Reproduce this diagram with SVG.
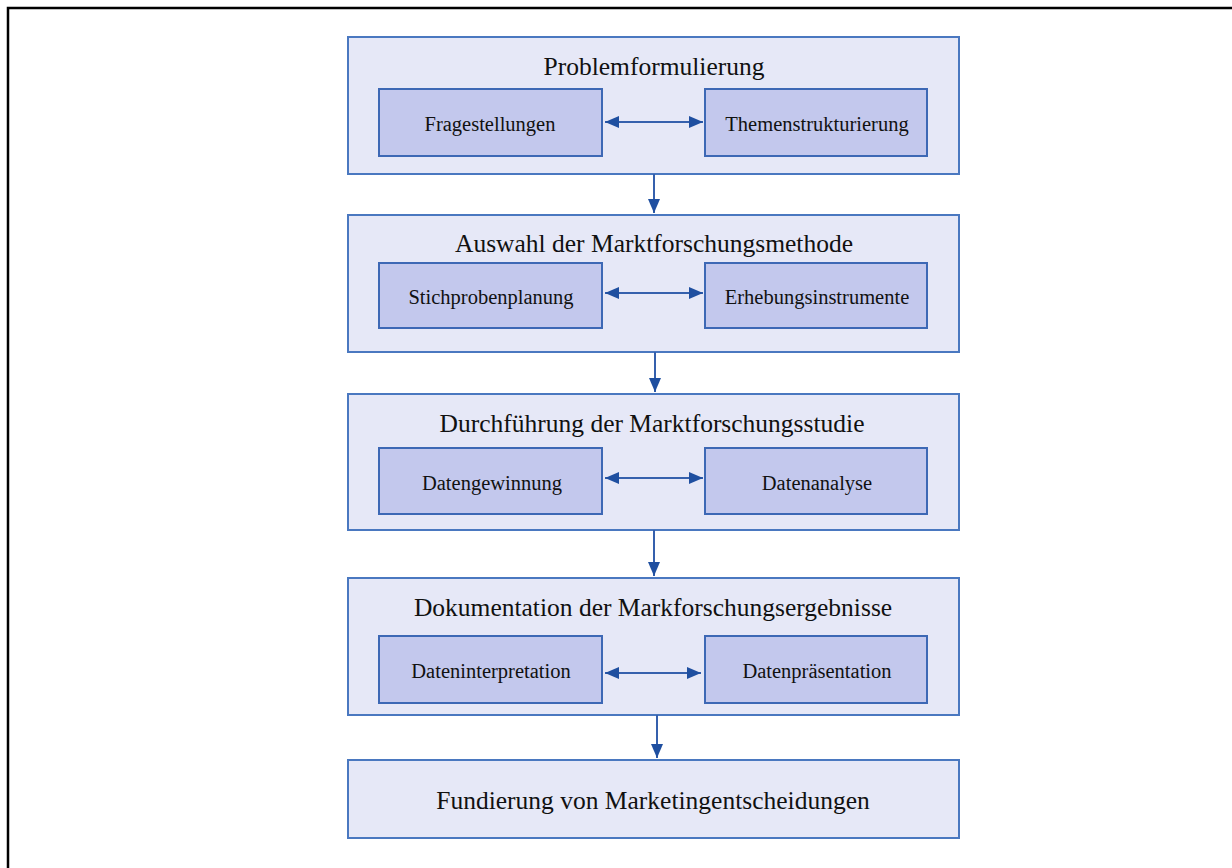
<svg xmlns="http://www.w3.org/2000/svg" width="1232" height="868" viewBox="0 0 1232 868">
<style>
.outer{fill:#e6e8f7;stroke:#4a78c0;stroke-width:2}
.inner{fill:#c3c8ed;stroke:#3d68b5;stroke-width:2}
.t{font-family:"Liberation Serif","Times New Roman",serif;fill:#111;text-anchor:middle}
.big{font-size:25.5px}
.small{font-size:20.5px}
.con{stroke:#3560ad;stroke-width:2;fill:none}
</style>
<defs>
<marker id="ah" viewBox="0 0 10 10" refX="10" refY="5" markerWidth="7" markerHeight="6" orient="auto-start-reverse" markerUnits="strokeWidth" preserveAspectRatio="none">
<path d="M0,0 L10,5 L0,10 z" fill="#1f4fa0"/>
</marker>
</defs>
<rect width="1232" height="868" fill="#fff"/>
<g id="frame"><path d="M8,868 V8 H1232" fill="none" stroke="#000" stroke-width="2.5"/></g>

<g id="n1">
<rect class="outer" x="348" y="37" width="611" height="137"/>
<text class="t big" x="654" y="75">Problemformulierung</text>
<g id="n1a"><rect class="inner" x="379" y="89" width="223" height="67"/><text class="t small" x="490" y="131">Fragestellungen</text></g>
<g id="n1b"><rect class="inner" x="705" y="89" width="222" height="67"/><text class="t small" x="817" y="131">Themenstrukturierung</text></g>
</g>

<g id="n2">
<rect class="outer" x="348" y="215" width="611" height="137"/>
<text class="t big" x="654" y="252">Auswahl der Marktforschungsmethode</text>
<g id="n2a"><rect class="inner" x="379" y="263" width="223" height="65"/><text class="t small" x="491" y="304">Stichprobenplanung</text></g>
<g id="n2b"><rect class="inner" x="705" y="263" width="222" height="65"/><text class="t small" x="817" y="304">Erhebungsinstrumente</text></g>
</g>

<g id="n3">
<rect class="outer" x="348" y="394" width="611" height="136"/>
<text class="t big" x="652" y="432">Durchführung der Marktforschungsstudie</text>
<g id="n3a"><rect class="inner" x="379" y="448" width="223" height="66"/><text class="t small" x="492" y="490">Datengewinnung</text></g>
<g id="n3b"><rect class="inner" x="705" y="448" width="222" height="66"/><text class="t small" x="817" y="490">Datenanalyse</text></g>
</g>

<g id="n4">
<rect class="outer" x="348" y="578" width="611" height="137"/>
<text class="t big" x="653" y="616">Dokumentation der Markforschungsergebnisse</text>
<g id="n4a"><rect class="inner" x="379" y="636" width="223" height="67"/><text class="t small" x="491" y="678">Dateninterpretation</text></g>
<g id="n4b"><rect class="inner" x="705" y="636" width="222" height="67"/><text class="t small" x="817" y="678">Datenpräsentation</text></g>
</g>

<g id="n5">
<rect class="outer" x="348" y="760" width="611" height="78"/>
<text class="t big" x="653" y="809">Fundierung von Marketingentscheidungen</text>
</g>

<g id="connectors">
<line class="con" x1="654" y1="174" x2="654" y2="213" marker-end="url(#ah)"/>
<line class="con" x1="655" y1="352" x2="655" y2="392" marker-end="url(#ah)"/>
<line class="con" x1="654" y1="530" x2="654" y2="576" marker-end="url(#ah)"/>
<line class="con" x1="657" y1="715" x2="657" y2="758" marker-end="url(#ah)"/>
<line class="con" x1="605" y1="122" x2="703" y2="122" marker-start="url(#ah)" marker-end="url(#ah)"/>
<line class="con" x1="605" y1="293" x2="703" y2="293" marker-start="url(#ah)" marker-end="url(#ah)"/>
<line class="con" x1="605" y1="478" x2="703" y2="478" marker-start="url(#ah)" marker-end="url(#ah)"/>
<line class="con" x1="605" y1="673" x2="701" y2="673" marker-start="url(#ah)" marker-end="url(#ah)"/>
</g>
</svg>
